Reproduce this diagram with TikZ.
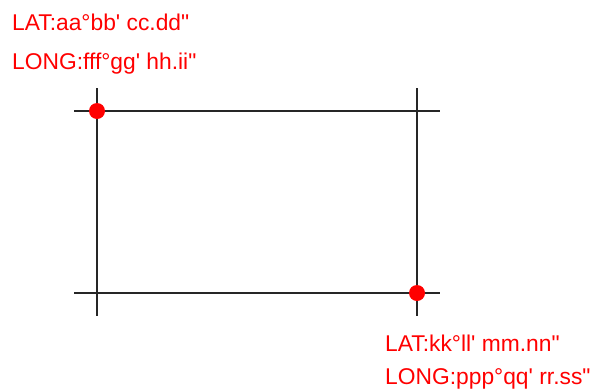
\documentclass[tikz,border=0pt]{standalone}
\usepackage{fontspec}
\setmainfont{Liberation Sans}[Ligatures = TeXOff]
\tikzset{
    grid line/.style = {line width = 2.2pt, black!85},
    corner dot/.style = {circle, fill = red, inner sep = 0pt, minimum size = 16pt},
    coord text/.style = {anchor = base west, inner sep = 0pt, text = red, font = \fontsize{22.8}{22.8}\selectfont}
}
\begin{document}
\begin{tikzpicture}[x = 1pt, y = -1pt]
            \useasboundingbox (0, 0) rectangle (594, 389);

            \draw[grid line]
                (74, 111) coordinate (top w) -- (440, 111) coordinate (top e)
                (74, 293) coordinate (bot w) -- (440, 293) coordinate (bot e)
                (97, 88) coordinate (left n) -- (97, 316) coordinate (left s)
                (417, 88) coordinate (right n) -- (417, 316) coordinate (right s)
            ;

            \draw
                (97, 111) node (nw) [corner dot] {}
                (417, 293) node (se) [corner dot] {}

                (12, 30) node (nw lat) [coord text] {LAT:aa°bb' cc.dd"}
                (12, 69) node (nw long) [coord text] {LONG:fff°gg' hh.ii"}
                (385, 351) node (se lat) [coord text] {LAT:kk°ll' mm.nn"}
                (385, 384) node (se long) [coord text] {LONG:ppp°qq' rr.ss"}
            ;
        \end{tikzpicture}
\end{document}
